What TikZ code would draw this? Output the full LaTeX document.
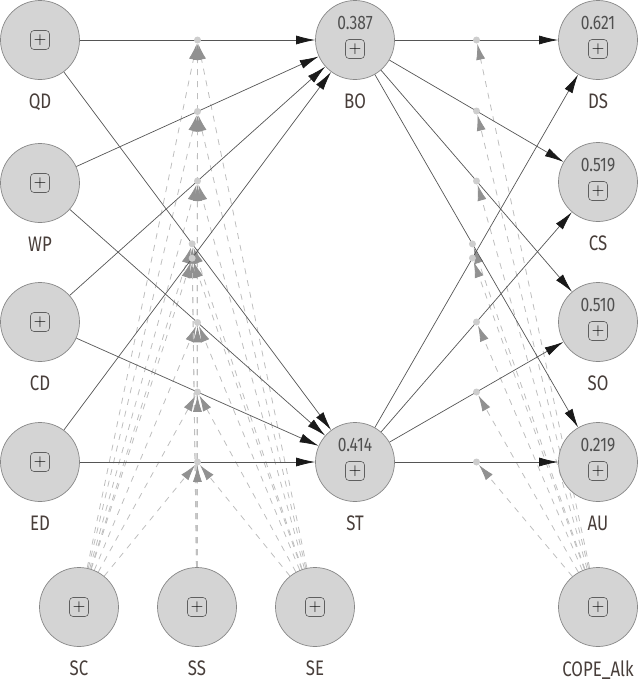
\documentclass[tikz,border=0pt]{standalone}
\usepackage{fontspec}
\setmainfont{Fira Sans}[FakeStretch=0.8]
\usetikzlibrary{arrows.meta,positioning,calc,backgrounds}
\definecolor{circfill}{RGB}{212,212,212}
\definecolor{circbd}{RGB}{135,135,135}
\definecolor{boxbd}{RGB}{95,95,95}
\definecolor{valcol}{RGB}{80,80,80}
\definecolor{lblcol}{RGB}{72,62,58}
\definecolor{edgecol}{RGB}{85,85,85}
\definecolor{dashcol}{RGB}{190,190,190}
\definecolor{tipgray}{RGB}{145,145,145}
\definecolor{dotcol}{RGB}{205,205,205}

\begin{document}
\begin{tikzpicture}[
  x=1pt, y=-1pt,
  lv/.style={circle, draw=circbd, fill=circfill, line width=0.7pt,
             minimum size=79pt, inner sep=0pt},
  plusbox/.style={draw=boxbd, rounded corners=3.5pt, line width=0.6pt,
                  minimum size=19pt, inner sep=0pt,
                  font=\fontsize{17}{17}\selectfont},
  val/.style={font=\fontsize{19.5}{19.5}\selectfont, text=valcol, inner sep=0pt},
  lbl/.style={font=\fontsize{21}{21}\selectfont, text=lblcol, inner sep=0pt},
  pth/.style={draw=edgecol, line width=0.7pt,
              -{Latex[length=19pt, width=9pt, color=black!90]}},
  modr/.style={draw=dashcol, line width=0.8pt, dash pattern=on 6pt off 6pt,
               -{Latex[length=16pt, width=9pt, color=tipgray]}},
  idot/.style={circle, fill=dotcol, minimum size=7pt, inner sep=0pt},
]
  \useasboundingbox (0,0) rectangle (638,681);

  % latent variables
  \node[lv] (QD) at (40,40)  {};
  \node[lv] (WP) at (40,183) {};
  \node[lv] (CD) at (40,322) {};
  \node[lv] (ED) at (40,462) {};
  \node[lv] (SC) at (79,607)  {};
  \node[lv] (SS) at (197,607) {};
  \node[lv] (SE) at (315,607) {};
  \node[lv] (BO) at (355,40)  {};
  \node[lv] (ST) at (355,462) {};
  \node[lv] (DS) at (598,40)  {};
  \node[lv] (CS) at (598,182) {};
  \node[lv] (SO) at (598,322) {};
  \node[lv] (AU) at (598,462) {};
  \node[lv] (AL) at (598,607) {};

  \foreach \n/\t in {QD/QD, WP/WP, CD/CD, ED/ED, SC/SC, SS/SS, SE/SE, BO/BO,
                     ST/ST, DS/DS, CS/CS, SO/SO, AU/AU, AL/COPE\_Alk}
    \node[lbl, below=14pt of \n.south] (\n-lbl) {\t};

  \foreach \n in {QD, WP, CD, ED, SC, SS, SE, AL}
    \node[plusbox] (\n-box) at (\n) {$+$};

  \foreach \n/\v in {BO/0.387, ST/0.414, DS/0.621, CS/0.519, SO/0.510, AU/0.219} {
    \node[val] (\n-val) at ($(\n)+(0,-17)$) {\v};
    \node[plusbox] (\n-box) at ($(\n)+(0,9)$) {$+$};
  }

  % structural paths, with the interaction points on them
  \draw[pth] (QD) -- node[idot] (m1) {} (BO);
  \draw[pth] (WP) -- node[idot] (m2) {} (BO);
  \draw[pth] (CD) -- node[idot] (m3) {} (BO);
  \draw[pth] (ED) -- node[idot, pos=.48] (m4) {} (BO);
  \draw[pth] (QD) -- node[idot, pos=.48] (m5) {} (ST);
  \draw[pth] (WP) -- node[idot] (m6) {} (ST);
  \draw[pth] (CD) -- node[idot] (m7) {} (ST);
  \draw[pth] (ED) -- node[idot] (m8) {} (ST);

  \draw[pth] (BO) -- node[idot] (r1) {} (DS);
  \draw[pth] (BO) -- node[idot] (r2) {} (CS);
  \draw[pth] (BO) -- node[idot] (r3) {} (SO);
  \draw[pth] (BO) -- node[idot, pos=.48] (r4) {} (AU);
  \draw[pth] (ST) -- node[idot, pos=.48] (r5) {} (DS);
  \draw[pth] (ST) -- node[idot] (r6) {} (CS);
  \draw[pth] (ST) -- node[idot] (r7) {} (SO);
  \draw[pth] (ST) -- node[idot] (r8) {} (AU);

  % moderating effects
  \begin{scope}[on background layer]
    \foreach \s in {SC, SS, SE}
      \foreach \m in {m1, m2, m3, m4, m5, m6, m7, m8}
        \draw[modr] (\s) -- (\m);
    \foreach \m in {r1, r2, r3, r4, r5, r6, r7, r8}
      \draw[modr] (AL) -- (\m);
  \end{scope}
\end{tikzpicture}
\end{document}
